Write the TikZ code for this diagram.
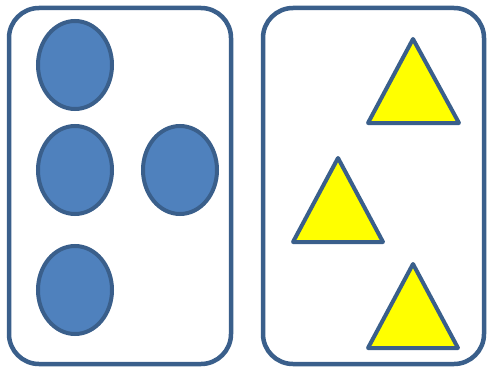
\documentclass[tikz,border=0pt]{standalone}
\usetikzlibrary{shapes.geometric}

\definecolor{edgeblue}{HTML}{3A5F8B}
\definecolor{fillblue}{HTML}{4F81BD}
\definecolor{fillyellow}{HTML}{FFFF00}

\begin{document}
\begin{tikzpicture}[
  x=1pt, y=-1pt,
  card/.style={rectangle, rounded corners=30pt, draw=edgeblue, line width=4.5pt, fill=white, minimum width=222pt, minimum height=356pt, inner sep=0pt},
  dot/.style={ellipse, draw=edgeblue, line width=4pt, fill=fillblue, minimum width=74pt, minimum height=88pt, inner sep=0pt},
  tri/.style={draw=edgeblue, line width=4pt, fill=fillyellow, line join=round}
]
\useasboundingbox (0,0) rectangle (487,369);

% -------------------------
% CARDS
% -------------------------
\node[card] (cardL) at (120, 186) {};
\node[card, minimum width=221pt] (cardR) at (373.5, 186) {};

% -------------------------
% ELLIPSES (LEFT CARD)
% -------------------------
\node[dot] (dotA) at (75, 65) {};
\node[dot] (dotB) at (75, 170) {};
\node[dot] (dotC) at (180, 170) {};
\node[dot] (dotD) at (75, 290) {};

% -------------------------
% TRIANGLES (RIGHT CARD)
% -------------------------
\draw[tri] (413, 39) -- (459, 123) -- (368, 123) -- cycle;
\draw[tri] (338, 158) -- (383, 242) -- (293, 242) -- cycle;
\draw[tri] (413, 264) -- (458, 348) -- (368, 348) -- cycle;

\end{tikzpicture}
\end{document}
